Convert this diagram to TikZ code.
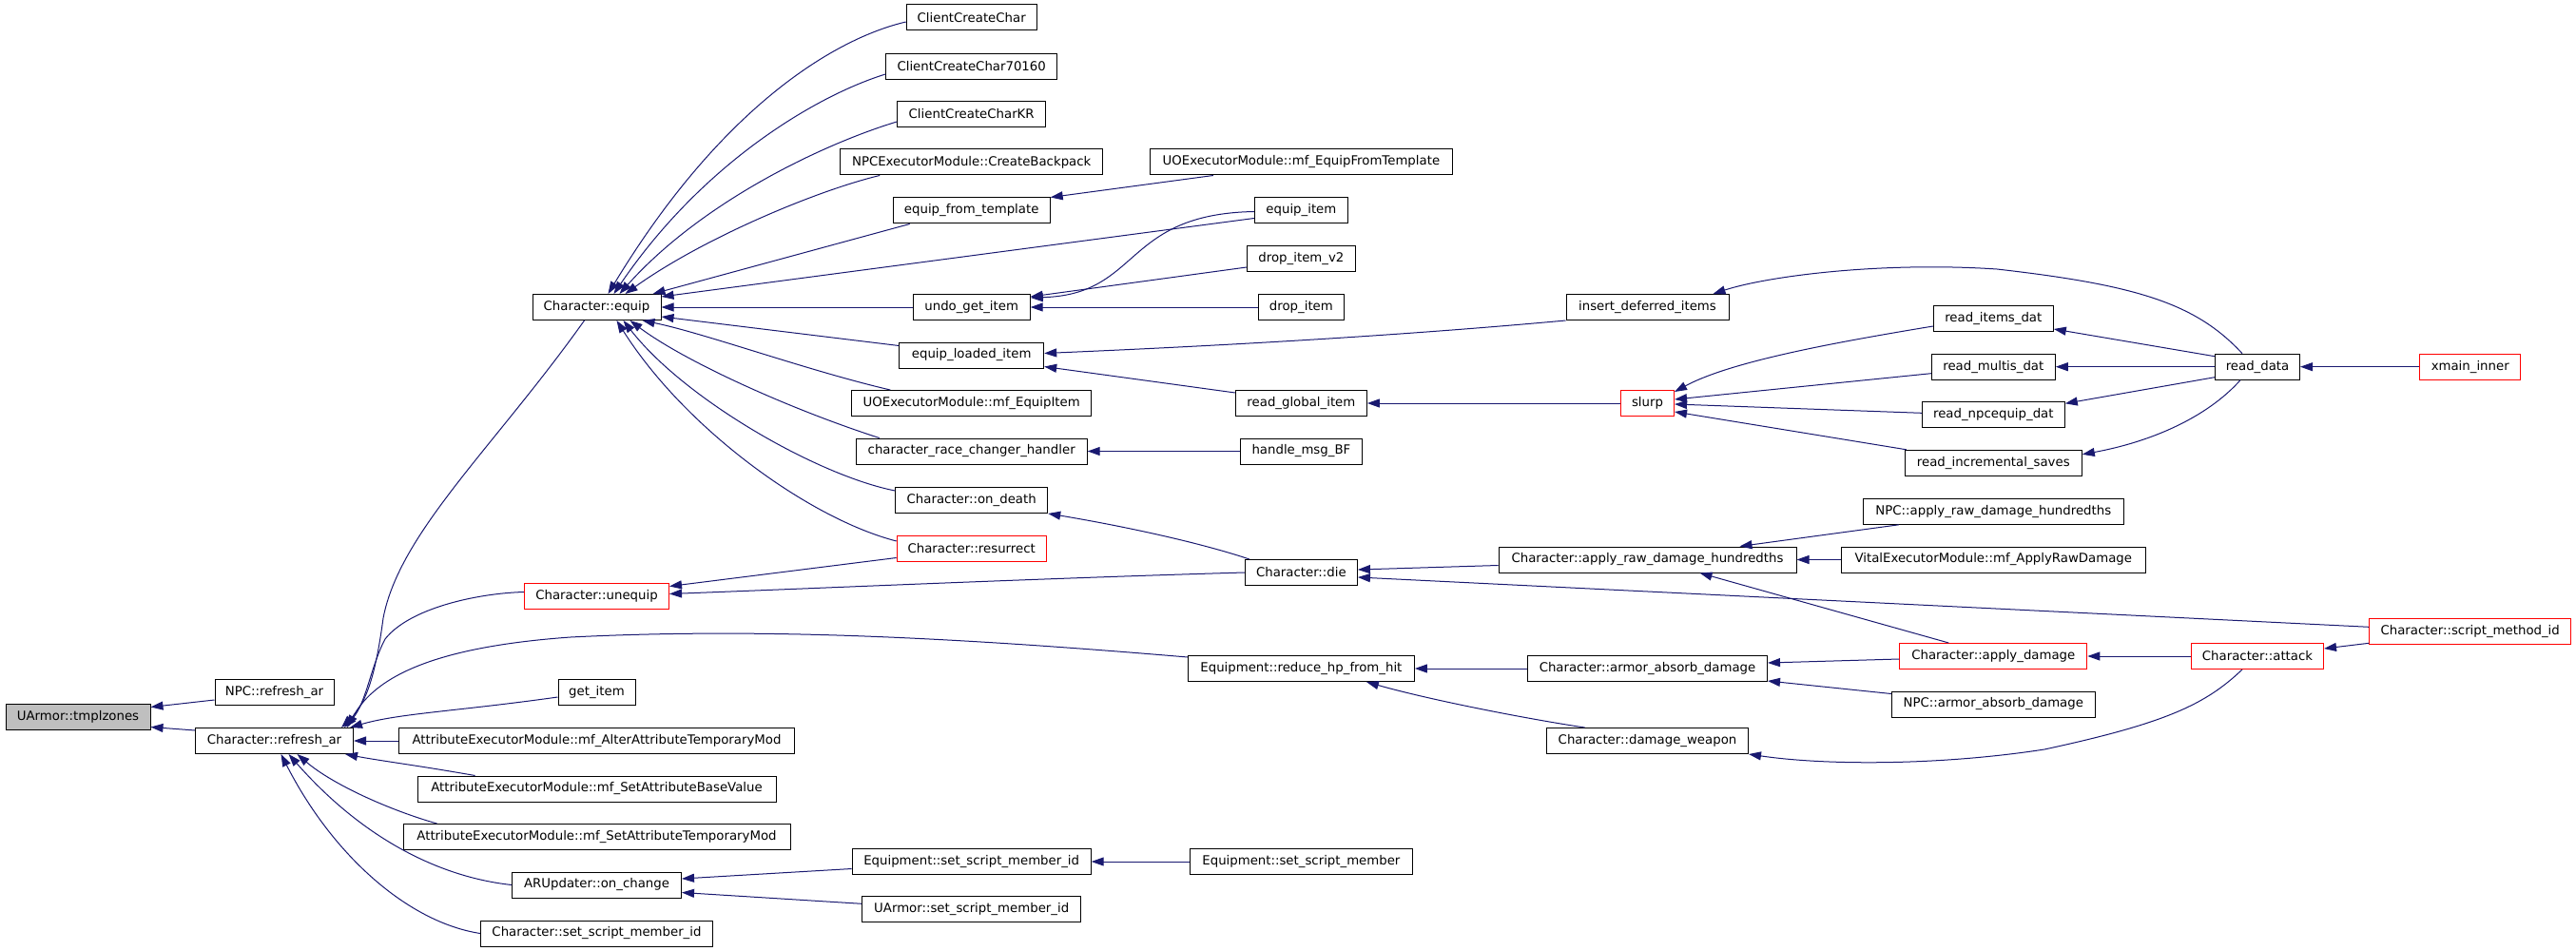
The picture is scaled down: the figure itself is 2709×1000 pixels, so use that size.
\documentclass[tikz,border=0pt]{standalone}
\usepackage{fontspec}
\setmainfont{DejaVu Sans}
\usepackage{xcolor}
\usepackage{tikz}
\usetikzlibrary{arrows.meta}

\definecolor{edgeblue}{HTML}{191970}
\definecolor{rootgray}{HTML}{BFBFBF}

\begin{document}
\begin{tikzpicture}[x=1pt,y=-1pt,
  box/.style={draw,line width=1pt,inner sep=0pt,minimum height=27pt,
    font=\fontsize{13.3}{16}\selectfont},
  redbox/.style={box,draw=red},
  rootbox/.style={box,fill=rootgray},
  calls/.style={draw=edgeblue,line width=1pt,-{Triangle[length=13pt,width=9pt]}}]
\useasboundingbox (0,0) rectangle (2709,1000);
% root and first rank
  \node (tmplzones) [rootbox,minimum width=152pt] at (82,753.5) {UArmor::tmplzones};
  \node (npcrefresh) [box,minimum width=125pt] at (288.5,728) {NPC::refresh\_ar};
  \node (refresh) [box,minimum width=166pt] at (288.5,779) {Character::refresh\_ar};
% callers of refresh_ar
  \node (equip) [box,minimum width=135pt] at (627.5,323) {Character::equip};
  \node (unequip) [redbox,minimum width=152pt] at (627.5,626.5) {Character::unequip};
  \node (getitem) [box,minimum width=81pt] at (627.5,728) {get\_item};
  \node (altermod) [box,minimum width=416pt] at (627.5,779) {AttributeExecutorModule::mf\_AlterAttributeTemporaryMod};
  \node (basevalue) [box,minimum width=377pt] at (627.5,829.5) {AttributeExecutorModule::mf\_SetAttributeBaseValue};
  \node (settempmod) [box,minimum width=407pt] at (627.5,880) {AttributeExecutorModule::mf\_SetAttributeTemporaryMod};
  \node (onchange) [box,minimum width=178pt] at (627.5,930.5) {ARUpdater::on\_change};
  \node (charmemberid) [box,minimum width=244pt] at (627.5,981.5) {Character::set\_script\_member\_id};
% third rank
  \node (ccc) [box,minimum width=137pt] at (1021.7,18.5) {ClientCreateChar};
  \node (ccc70160) [box,minimum width=180pt] at (1021.7,70) {ClientCreateChar70160};
  \node (ccckr) [box,minimum width=156pt] at (1021.7,120) {ClientCreateCharKR};
  \node (backpack) [box,minimum width=276pt] at (1021.7,170.5) {NPCExecutorModule::CreateBackpack};
  \node (fromtemplate) [box,minimum width=165pt] at (1021.7,221.5) {equip\_from\_template};
  \node (undoget) [box,minimum width=123pt] at (1021.7,323) {undo\_get\_item};
  \node (loadeditem) [box,minimum width=152pt] at (1021.7,373.5) {equip\_loaded\_item};
  \node (uoequipitem) [box,minimum width=252pt] at (1021.7,424) {UOExecutorModule::mf\_EquipItem};
  \node (racechanger) [box,minimum width=243pt] at (1021.7,474.5) {character\_race\_changer\_handler};
  \node (ondeath) [box,minimum width=160pt] at (1021.7,526) {Character::on\_death};
  \node (resurrect) [redbox,minimum width=157pt] at (1021.7,576.5) {Character::resurrect};
  \node (equipmemberid) [box,minimum width=251pt] at (1021.7,906) {Equipment::set\_script\_member\_id};
  \node (uarmormemberid) [box,minimum width=230pt] at (1021.7,956.3) {UArmor::set\_script\_member\_id};
% fourth rank
  \node (equipfromtemplate) [box,minimum width=318pt] at (1368.4,170.5) {UOExecutorModule::mf\_EquipFromTemplate};
  \node (equipitem) [box,minimum width=98pt] at (1368.4,221.5) {equip\_item};
  \node (dropitemv2) [box,minimum width=114pt] at (1368.4,272) {drop\_item\_v2};
  \node (dropitem) [box,minimum width=90pt] at (1368.4,323) {drop\_item};
  \node (readglobal) [box,minimum width=138pt] at (1368.4,424) {read\_global\_item};
  \node (handlemsg) [box,minimum width=128pt] at (1368.4,474.5) {handle\_msg\_BF};
  \node (die) [box,minimum width=118pt] at (1368.4,602) {Character::die};
  \node (reducehp) [box,minimum width=238pt] at (1368.4,703) {Equipment::reduce\_hp\_from\_hit};
  \node (setmember) [box,minimum width=234pt] at (1368.4,906) {Equipment::set\_script\_member};
% fifth rank
  \node (insertdeferred) [box,minimum width=171pt] at (1732.5,323) {insert\_deferred\_items};
  \node (slurp) [redbox,minimum width=56pt] at (1732.5,424) {slurp};
  \node (applyrawh) [box,minimum width=313pt] at (1732.5,588.5) {Character::apply\_raw\_damage\_hundredths};
  \node (armorabsorb) [box,minimum width=252pt] at (1732.5,703) {Character::armor\_absorb\_damage};
  \node (damageweapon) [box,minimum width=212pt] at (1732.5,779) {Character::damage\_weapon};
% sixth rank
  \node (readitems) [box,minimum width=126pt] at (2096.3,335) {read\_items\_dat};
  \node (readmultis) [box,minimum width=130pt] at (2096.3,385.7) {read\_multis\_dat};
  \node (readnpcequip) [box,minimum width=150pt] at (2096.3,436.3) {read\_npcequip\_dat};
  \node (readincremental) [box,minimum width=186pt] at (2096.3,486.8) {read\_incremental\_saves};
  \node (npcapplyrawh) [box,minimum width=274pt] at (2096.3,537.8) {NPC::apply\_raw\_damage\_hundredths};
  \node (vitalapply) [box,minimum width=320pt] at (2096.3,588.5) {VitalExecutorModule::mf\_ApplyRawDamage};
  \node (applydamage) [redbox,minimum width=197pt] at (2096.3,690) {Character::apply\_damage};
  \node (npcarmorabsorb) [box,minimum width=214pt] at (2096.3,740.5) {NPC::armor\_absorb\_damage};
% last ranks
  \node (readdata) [box,minimum width=89pt] at (2374,385.7) {read\_data};
  \node (attack) [redbox,minimum width=139pt] at (2374,690) {Character::attack};
  \node (xmain) [redbox,minimum width=106pt] at (2597.7,385.7) {xmain\_inner};
  \node (scriptmethod) [redbox,minimum width=212pt] at (2597.7,664.3) {Character::script\_method\_id};
% arrows into tmplzones
\draw [calls] ([yshift=-8pt]npcrefresh.west) -- ([yshift=10pt]tmplzones.east);
\draw [calls] ([yshift=-3pt]refresh.north west) -- ([yshift=-11pt]tmplzones.east);
% arrows into refresh_ar
\draw [calls] ([xshift=-13pt]equip.south) .. controls (520,470) and (420,560) .. (403,650) .. controls (395,710) and (385,740) .. ([xshift=-13pt]refresh.north east);
\draw [calls] ([yshift=4pt]unequip.west) .. controls (500,624) and (430,640) .. (405,672) .. controls (390,700) and (385,740) .. ([xshift=-10pt]refresh.north east);
\draw [calls] ([yshift=-2pt]reducehp.north west) .. controls (1000,670) and (800,660) .. (600,670) .. controls (460,680) and (395,710) .. ([xshift=-7pt]refresh.north east);
\draw [calls] ([yshift=-5pt]getitem.west) .. controls (480,748) and (420,750) .. ([xshift=-4pt]refresh.north east);
\draw [calls] (altermod) -- (refresh);
\draw [calls] ([xshift=-128pt]basevalue.north) .. controls (440,805) and (400,800) .. ([xshift=-9pt]refresh.south east);
\draw [calls] ([xshift=-168pt]settempmod.north) .. controls (410,852) and (350,825) .. ([xshift=24pt]refresh.south);
\draw [calls] (onchange.west) .. controls (460,922) and (380,880) .. ([xshift=15pt]refresh.south);
\draw [calls] (charmemberid.west) .. controls (430,970) and (350,900) .. ([xshift=7pt]refresh.south);
% arrows into equip
\draw [calls] ([yshift=-4.5pt]ccc.west) .. controls (880,40) and (760,110) .. ([xshift=12pt]equip.north);
\draw [calls] ([yshift=-8pt]ccc70160.west) .. controls (860,100) and (740,170) .. ([xshift=18pt]equip.north);
\draw [calls] ([yshift=-8pt]ccckr.west) .. controls (870,150) and (740,210) .. ([xshift=24pt]equip.north);
\draw [calls] ([xshift=42pt]backpack.south west) .. controls (860,200) and (740,250) .. ([xshift=30pt]equip.north);
\draw [calls] ([xshift=18pt]fromtemplate.south west) -- ([xshift=-9pt]equip.north east);
\draw [calls] ([yshift=-8pt]equipitem.west) -- ([yshift=11pt]equip.east);
\draw [calls] (undoget) -- (equip);
\draw [calls] ([yshift=-4pt]loadeditem.north west) -- ([yshift=-10pt]equip.east);
\draw [calls] ([xshift=41pt]uoequipitem.north west) .. controls (850,390) and (740,350) .. ([xshift=-20pt]equip.south east);
\draw [calls] ([xshift=25pt]racechanger.north west) .. controls (830,430) and (720,380) .. ([xshift=35pt]equip.south);
\draw [calls] ([yshift=10pt]ondeath.west) .. controls (860,500) and (720,420) .. ([xshift=28pt]equip.south);
\draw [calls] ([yshift=7.5pt]resurrect.west) .. controls (850,545) and (720,450) .. ([xshift=21pt]equip.south);
% upper right
\draw [calls] ([xshift=67pt]equipfromtemplate.south west) -- (fromtemplate.north east);
\draw [calls] ([yshift=-1pt]equipitem.west) .. controls (1180,225) and (1200,310) .. ([yshift=-4pt]undoget.north east);
\draw [calls] ([yshift=-9pt]dropitemv2.west) -- ([yshift=-3pt]undoget.north east);
\draw [calls] (dropitem) -- (undoget);
\draw [calls] (insertdeferred.south west) .. controls (1450,355) and (1250,365) .. ([yshift=2pt]loadeditem.east);
\draw [calls] ([yshift=11pt]readglobal.west) -- ([yshift=2pt]loadeditem.south east);
\draw [calls] (slurp) -- (readglobal);
\draw [calls] (handlemsg) -- (racechanger);
\draw [calls] ([xshift=-16pt]readdata.north) .. controls (2310,320) and (2250,300) .. (2100,283) .. controls (1980,275) and (1860,290) .. ([xshift=-17pt]insertdeferred.north east);
\draw [calls] ([yshift=-8pt]readitems.west) .. controls (1930,360) and (1820,380) .. ([yshift=-2pt]slurp.north east);
\draw [calls] ([yshift=-7pt]readmultis.west) -- ([yshift=4pt]slurp.east);
\draw [calls] ([yshift=2pt]readnpcequip.west) -- ([yshift=-1pt]slurp.east);
\draw [calls] ([xshift=2pt]readincremental.north west) -- ([yshift=5pt]slurp.south east);
\draw [calls] ([yshift=-3pt]readdata.north west) -- ([yshift=3pt]readitems.south east);
\draw [calls] (readdata) -- (readmultis);
\draw [calls] ([yshift=3pt]readdata.south west) -- ([yshift=-2pt]readnpcequip.north east);
\draw [calls] ([xshift=-18pt]readdata.south) .. controls (2320,440) and (2260,465) .. ([yshift=-5pt]readincremental.north east);
\draw [calls] (xmain) -- (readdata);
% lower right
\draw [calls] ([xshift=5pt]die.north west) .. controls (1260,570) and (1180,553) .. (ondeath.south east);
\draw [calls] ([yshift=-10pt]resurrect.west) -- ([yshift=10pt]unequip.east);
\draw [calls] (die.west) .. controls (1100,608) and (900,617) .. ([yshift=2pt]unequip.east);
\draw [calls] ([yshift=-6pt]applyrawh.west) -- ([yshift=3pt]die.east);
\draw [calls] ([yshift=5pt]scriptmethod.west) -- ([yshift=-5pt]die.east);
\draw [calls] ([xshift=38pt]npcapplyrawh.south west) -- ([xshift=-60pt]applyrawh.north east);
\draw [calls] (vitalapply) -- (applyrawh);
\draw [calls] ([xshift=-47pt]applydamage.north) -- ([xshift=-102pt]applyrawh.south east);
\draw [calls] (armorabsorb) -- (reducehp);
\draw [calls] ([xshift=-66pt]damageweapon.north) .. controls (1600,755) and (1500,735) .. ([xshift=-51pt]reducehp.south east);
\draw [calls] ([yshift=-3pt]applydamage.west) -- ([yshift=6pt]armorabsorb.east);
\draw [calls] ([yshift=11pt]npcarmorabsorb.west) -- ([yshift=-13pt]armorabsorb.east);
\draw [calls] (attack) -- (applydamage);
\draw [calls] ([xshift=-16pt]attack.south) .. controls (2320,740) and (2280,760) .. (2150,788) .. controls (2040,805) and (1920,805) .. (damageweapon.south east);
\draw [calls] ([yshift=-12pt]scriptmethod.west) -- ([yshift=8pt]attack.east);
% bottom
\draw [calls] ([yshift=-7.5pt]equipmemberid.west) -- ([yshift=6.5pt]onchange.east);
\draw [calls] ([yshift=6pt]uarmormemberid.west) -- ([yshift=-8pt]onchange.east);
\draw [calls] (setmember) -- (equipmemberid);
\end{tikzpicture}
\end{document}
